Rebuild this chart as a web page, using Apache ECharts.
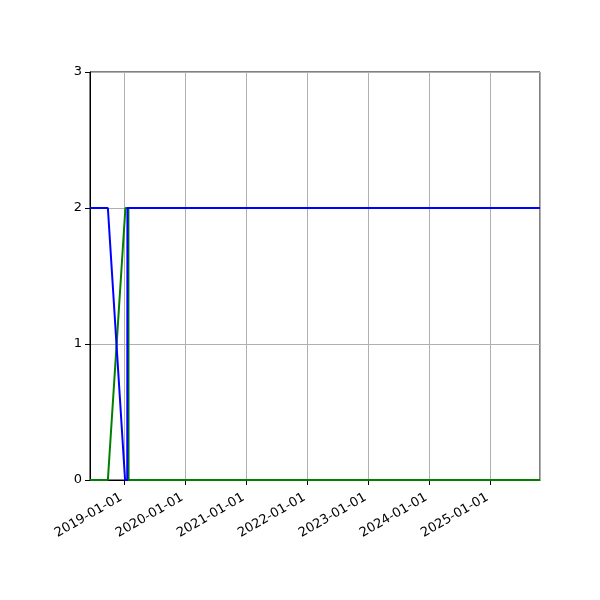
<!DOCTYPE html>
<html>
<head>
    <meta charset="utf-8">
    <script src="https://cdn.jsdelivr.net/npm/echarts@6/dist/echarts.min.js"></script>
</head>
<body style="margin:0">
<div id="main" style="width:600px;height:600px"></div>
<script type="text/javascript">
    // values
    var blueDates = ['2018-06-12', '2018-09-27', '2019-01-08', '2019-01-21', '2019-01-22', '2025-10-27'];
    var blueValues = [2, 2, 0, 0, 2, 2];
    var greenDates = ['2018-06-12', '2018-09-27', '2019-01-10', '2019-01-28', '2019-01-29', '2025-10-27'];
    var greenValues = [0, 0, 2, 2, 0, 0];
    var xMin = '2018-06-12';
    var xMax = '2025-10-27';

    function pairs(dates, values) {
        return dates.map(function (d, i) { return [d, values[i]]; });
    }

    var myChart = echarts.init(document.getElementById('main'));
    var font = 'DejaVu Sans';

    option = {
        animation: false,
        grid: {
            left: 90, right: 60, top: 72, bottom: 120,
            show: true, borderColor: '#000', borderWidth: 1
        },
        xAxis: {
            type: 'time',
            min: xMin,
            max: xMax,
            minInterval: 365 * 24 * 3600 * 1000,
            axisLine: { lineStyle: { color: '#000' } },
            axisTick: { show: true, length: 5, lineStyle: { color: '#000' } },
            minorTick: { show: false },
            axisLabel: {
                formatter: '{yyyy}-{MM}-{dd}',
                rotate: 30,
                color: '#000',
                fontFamily: font,
                fontSize: 13,
                margin: 15,
                padding: [0, 3, 0, 0],
                showMinLabel: false,
                showMaxLabel: false
            },
            splitLine: { show: true, lineStyle: { color: '#b0b0b0', width: 1 } }
        },
        yAxis: {
            type: 'value',
            min: 0, max: 3, interval: 1,
            axisLine: { show: true, lineStyle: { color: '#000' } },
            axisTick: { show: true, length: 5, lineStyle: { color: '#000' } },
            axisLabel: { color: '#000', fontFamily: font, fontSize: 13, margin: 8 },
            splitLine: { show: true, lineStyle: { color: '#b0b0b0', width: 1 } }
        },
        series: [
            {
                type: 'line',
                data: pairs(greenDates, greenValues),
                showSymbol: false,
                lineStyle: { color: '#008000', width: 2 },
                itemStyle: { color: '#008000' }
            },
            {
                type: 'line',
                data: pairs(blueDates, blueValues),
                showSymbol: false,
                lineStyle: { color: '#0000ff', width: 2 },
                itemStyle: { color: '#0000ff' }
            }
        ]
    };

    myChart.setOption(option);
</script>
</body>
</html>
